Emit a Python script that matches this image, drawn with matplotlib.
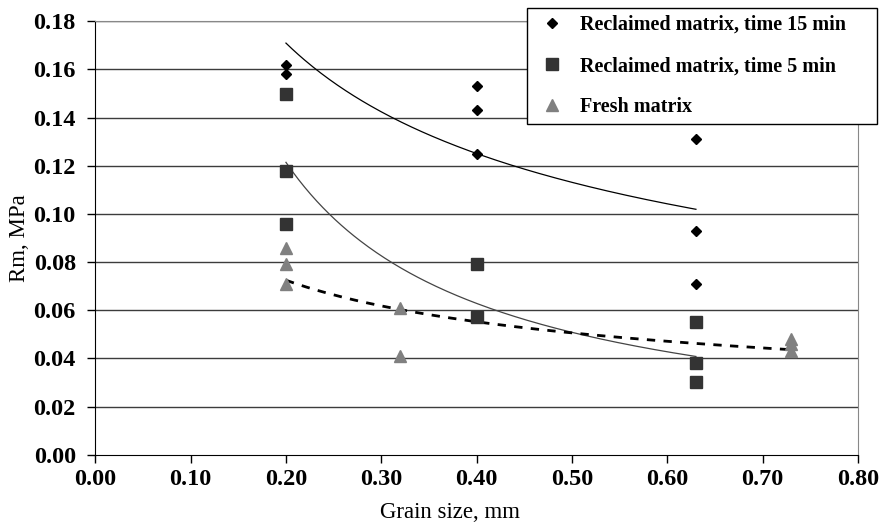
import numpy as np
import matplotlib
matplotlib.use("Agg")
import matplotlib.pyplot as plt

plt.rcParams['font.family'] = ['Liberation Serif', 'DejaVu Serif']

# reclaimed matrix, 15 min mixing
x_15 = [0.20, 0.20, 0.40, 0.40, 0.40, 0.63, 0.63, 0.63]
y_15 = [0.162, 0.158, 0.153, 0.143, 0.125, 0.131, 0.093, 0.071]

# reclaimed matrix, 5 min mixing
x_5 = [0.20, 0.20, 0.20, 0.40, 0.40, 0.63, 0.63, 0.63]
y_5 = [0.150, 0.118, 0.096, 0.079, 0.057, 0.055, 0.038, 0.030]

# fresh matrix
x_fresh = [0.20, 0.20, 0.20, 0.32, 0.32, 0.73, 0.73, 0.73]
y_fresh = [0.086, 0.079, 0.071, 0.061, 0.041, 0.048, 0.046, 0.043]

labels = ['Reclaimed matrix, time 15 min',
          'Reclaimed matrix, time 5 min',
          'Fresh matrix']


def power_trend(x, y):
    # y = a * x^b, least squares in log-log space
    b, ln_a = np.polyfit(np.log(x), np.log(y), 1)
    xs = np.linspace(min(x), max(x), 200)
    return xs, np.exp(ln_a) * xs ** b


fig = plt.figure(figsize=(8.83, 5.27), dpi=100)
ax = fig.add_axes([0.1079, 0.1372, 0.8638, 0.8224])

ax.set_xlim(0, 0.8)
ax.set_ylim(0, 0.18)
ax.set_xticks(np.arange(0, 0.81, 0.1))
ax.set_yticks(np.arange(0, 0.181, 0.02))
ax.xaxis.set_major_formatter(matplotlib.ticker.FormatStrFormatter('%.2f'))
ax.yaxis.set_major_formatter(matplotlib.ticker.FormatStrFormatter('%.2f'))

for y in np.arange(0.02, 0.181, 0.02):
    ax.axhline(y, color='#3c3c3c', lw=1.0, zorder=0)

xs, ys = power_trend(x_15, y_15)
ax.plot(xs, ys, color='black', lw=0.9, zorder=2)
xs, ys = power_trend(x_5, y_5)
ax.plot(xs, ys, color='#444444', lw=0.9, zorder=2)
xs, ys = power_trend(x_fresh, y_fresh)
ax.plot(xs, ys, color='black', lw=2.0, dashes=(3, 3), zorder=2)

ax.plot(x_15, y_15, 'D', color='black', ms=5.5, ls='none', label=labels[0], zorder=3)
ax.plot(x_5, y_5, 's', color='#333333', ms=9, ls='none', label=labels[1], zorder=3)
ax.plot(x_fresh, y_fresh, '^', color='#808080', ms=8.5, ls='none', label=labels[2], zorder=3)

ax.spines['left'].set_color('black')
ax.spines['bottom'].set_color('black')
ax.spines['top'].set_color('#888888')
ax.spines['right'].set_color('#888888')
ax.tick_params(direction='out', length=6, width=1, color='black', labelsize=17.5)
ax.tick_params(axis='y', pad=8)
ax.tick_params(axis='x', pad=4)
for lab in ax.get_xticklabels() + ax.get_yticklabels():
    lab.set_fontweight('bold')

ax.set_xlabel('Grain size, mm', fontsize=16.5)
ax.set_ylabel('Rm, MPa', fontsize=16.5)
ax.xaxis.set_label_coords(0.465, -0.108)
ax.yaxis.set_label_coords(-0.085, 0.5)

# legend box spans past the right edge of the plot area
leg_x0, leg_x1 = 527 / 883, 877 / 883
leg_y0, leg_y1 = 1 - 128 / 527, 1 - 8 / 527
leg = fig.legend(loc='upper left',
                 bbox_to_anchor=(leg_x0, leg_y0, leg_x1 - leg_x0, leg_y1 - leg_y0),
                 mode='expand',
                 prop={'weight': 'bold', 'size': 14.5}, frameon=True, fancybox=False,
                 edgecolor='black', framealpha=1, handlelength=1.8, handletextpad=0.5,
                 labelspacing=1.05, borderpad=0.35, borderaxespad=0)
leg.get_frame().set_linewidth(1.0)

fig.savefig('out.png', dpi=100)
